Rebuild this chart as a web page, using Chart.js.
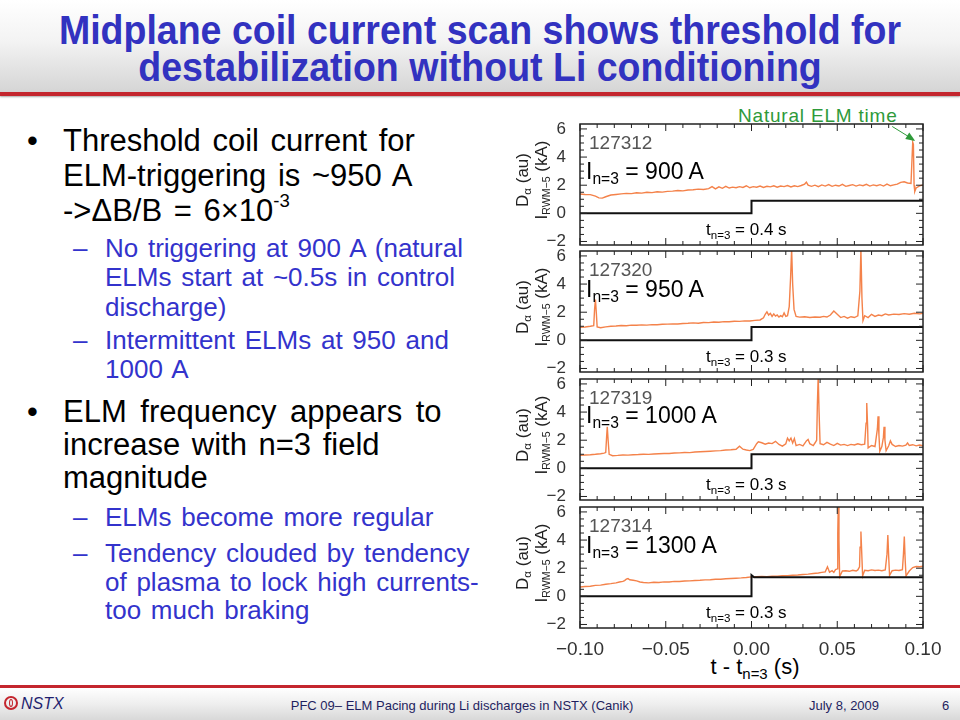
<!DOCTYPE html>
<html>
<head>
<meta charset="utf-8">
<script src="https://cdn.jsdelivr.net/npm/chart.js@4.4.1/dist/chart.umd.min.js"></script>
<style>
body { margin: 0; width: 960px; height: 720px; position: relative; overflow: hidden; background: #fff; font-family: "Liberation Sans", Arial, sans-serif; }
.abs { position: absolute; white-space: nowrap; }
#head { left: 0; top: 0; width: 960px; height: 92px; background: linear-gradient(#ffffff 0%, #f3f3f3 45%, #d5d5d5 100%); }
#headline { left: 0; top: 92px; width: 960px; height: 4px; background: #c4262e; box-shadow: 0 1px 2px #aaa; }
.ttl { left: 0; width: 960px; text-align: center; font-weight: bold; font-size: 41px; line-height: 44px; color: #3232c0; transform: scaleX(.915); }
.dot { left: 27px; font-size: 31px; line-height: 36px; color: #000; }
.b1 { left: 63px; font-size: 31px; line-height: 36px; color: #000; word-spacing: 3px; }
.dash { left: 73px; font-size: 26px; line-height: 30px; color: #3333cc; }
.b2 { left: 105px; font-size: 26px; line-height: 30px; color: #3333cc; word-spacing: 2.5px; }
sup { font-size: .6em; line-height: 0; vertical-align: .75em; }
sub { font-size: .68em; line-height: 0; vertical-align: -.32em; }
.shot { font-size: 19px; line-height: 19px; color: #555; }
.ilab { font-size: 23px; line-height: 23px; color: #000; }
.tlab { font-size: 17px; line-height: 17px; color: #000; }
.ytl { font-size: 17px; line-height: 17px; color: #222; transform: translate(-50%, -50%) rotate(-90deg); }
#foot { left: 0; top: 688px; width: 960px; height: 32px; background: linear-gradient(#ffffff 0%, #eeeeee 50%, #d8d8d8 100%); }
#footline { left: 0; top: 685px; width: 960px; height: 3px; background: #c4262e; }
.ft { font-size: 13px; line-height: 13px; color: #1f1f5f; }
</style>
</head>
<body>
<div id="head" class="abs"></div>
<div id="headline" class="abs"></div>
<div class="abs ttl" style="top:8px">Midplane coil current scan shows threshold for</div>
<div class="abs ttl" style="top:45px">destabilization without Li conditioning</div>

<div class="abs dot" style="top:123px">•</div>
<div class="abs b1" style="top:123px">Threshold coil current for</div>
<div class="abs b1" style="top:158px">ELM-triggering is ~950 A</div>
<div class="abs b1" style="top:193px">-&gt;ΔB/B = 6×10<sup>-3</sup></div>
<div class="abs dash" style="top:233px">–</div>
<div class="abs b2" style="top:233px">No triggering at 900 A (natural</div>
<div class="abs b2" style="top:262px">ELMs start at ~0.5s in control</div>
<div class="abs b2" style="top:292px">discharge)</div>
<div class="abs dash" style="top:325px">–</div>
<div class="abs b2" style="top:325px">Intermittent ELMs at 950 and</div>
<div class="abs b2" style="top:354px">1000 A</div>
<div class="abs dot" style="top:394px">•</div>
<div class="abs b1" style="top:394px;word-spacing:5px">ELM frequency appears to</div>
<div class="abs b1" style="top:427px">increase with n=3 field</div>
<div class="abs b1" style="top:460px">magnitude</div>
<div class="abs dash" style="top:502px">–</div>
<div class="abs b2" style="top:502px">ELMs become more regular</div>
<div class="abs dash" style="top:538px">–</div>
<div class="abs b2" style="top:538px">Tendency clouded by tendency</div>
<div class="abs b2" style="top:567px">of plasma to lock high currents-</div>
<div class="abs b2" style="top:595px">too much braking</div>

<div class="abs" style="left:738px;top:106px;font-size:19px;line-height:19px;letter-spacing:.8px;color:#2e9a3a">Natural ELM time</div>
<div class="abs" style="left:755px;top:656px;font-size:22px;line-height:22px;color:#000;transform:translateX(-50%)">t - t<sub>n=3</sub> (s)</div>

<div id="foot" class="abs"></div>
<div id="footline" class="abs"></div>
<div class="abs" style="left:4px;top:696px;width:14px;height:14px;border:2px solid #c4262e;border-radius:50%;box-sizing:border-box"></div>
<div class="abs" style="left:9px;top:699px;width:4px;height:8px;border:1.5px solid #c4262e;border-radius:50%;box-sizing:border-box"></div>
<div class="abs" style="left:21px;top:696px;font-size:16px;line-height:16px;font-style:italic;color:#1f1f6f">NSTX</div>
<div class="abs ft" style="left:462px;top:699px;transform:translateX(-50%)">PFC 09– ELM Pacing during Li discharges in NSTX (Canik)</div>
<div class="abs ft" style="left:844px;top:699px;transform:translateX(-50%)">July 8, 2009</div>
<div class="abs ft" style="left:942px;top:699px">6</div>

<script>
// shot labels and n=3 coil settings
const shots = ['127312', '127320', '127319', '127314'];
const currents = ['900 A', '950 A', '1000 A', '1300 A'];
const tOn = ['0.4 s', '0.3 s', '0.3 s', '0.3 s'];
const xTicks = [-0.10, -0.05, 0.00, 0.05, 0.10];
const yTicks = [-2, 0, 2, 4, 6];

// Dalpha traces (au) vs t - t_n=3 (s)
const t312 = [-0.100, -0.097, -0.094, -0.091, -0.089, -0.087, -0.085, -0.082, -0.079, -0.076, -0.073, -0.070, -0.067, -0.064, -0.061, -0.058, -0.055, -0.052, -0.049, -0.046, -0.043, -0.040, -0.037, -0.034, -0.031, -0.028, -0.025, -0.023, -0.021, -0.019, -0.017, -0.015, -0.013, -0.011, -0.009, -0.007, -0.005, -0.003, -0.001, 0.001, 0.003, 0.005, 0.007, 0.009, 0.011, 0.013, 0.015, 0.017, 0.019, 0.021, 0.023, 0.025, 0.027, 0.029, 0.031, 0.032, 0.033, 0.035, 0.037, 0.039, 0.041, 0.043, 0.045, 0.047, 0.049, 0.051, 0.053, 0.055, 0.057, 0.059, 0.061, 0.063, 0.065, 0.067, 0.069, 0.071, 0.073, 0.075, 0.077, 0.079, 0.081, 0.083, 0.085, 0.087, 0.089, 0.091, 0.093, 0.0940, 0.0944, 0.0948, 0.0952, 0.096, 0.098, 0.100];
const d312 = [1.38, 1.34, 1.33, 1.22, 1.10, 1.08, 1.18, 1.30, 1.34, 1.38, 1.42, 1.40, 1.46, 1.44, 1.50, 1.47, 1.53, 1.51, 1.56, 1.58, 1.62, 1.60, 1.66, 1.68, 1.72, 1.70, 1.76, 1.90, 1.74, 1.88, 1.78, 1.92, 1.80, 1.86, 1.82, 1.90, 1.84, 1.96, 1.82, 1.90, 1.86, 1.94, 1.84, 1.92, 1.88, 1.96, 1.86, 1.94, 1.90, 1.98, 1.88, 1.96, 1.90, 1.98, 2.08, 2.22, 2.00, 1.92, 2.00, 1.90, 2.02, 1.94, 2.04, 1.92, 2.00, 1.94, 2.06, 1.92, 1.98, 2.04, 1.94, 2.02, 1.96, 2.06, 1.94, 2.02, 1.96, 2.04, 1.94, 2.08, 1.96, 2.02, 2.08, 2.20, 2.24, 2.16, 2.12, 5.05, 4.90, 2.00, 1.55, 1.80, 1.95, 2.02];

const t320 = [-0.100, -0.097, -0.094, -0.092, -0.0915, -0.0910, -0.0905, -0.090, -0.088, -0.085, -0.082, -0.079, -0.076, -0.073, -0.070, -0.067, -0.064, -0.061, -0.058, -0.055, -0.052, -0.049, -0.046, -0.043, -0.040, -0.037, -0.034, -0.031, -0.028, -0.025, -0.022, -0.019, -0.016, -0.013, -0.010, -0.007, -0.004, -0.001, 0.002, 0.005, 0.007, 0.008, 0.009, 0.010, 0.011, 0.012, 0.013, 0.014, 0.015, 0.016, 0.017, 0.018, 0.019, 0.020, 0.021, 0.022, 0.0228, 0.0234, 0.0240, 0.0248, 0.026, 0.028, 0.031, 0.034, 0.037, 0.040, 0.042, 0.044, 0.046, 0.048, 0.050, 0.052, 0.054, 0.056, 0.058, 0.060, 0.062, 0.0632, 0.0638, 0.0644, 0.065, 0.066, 0.068, 0.070, 0.072, 0.074, 0.076, 0.078, 0.080, 0.083, 0.086, 0.089, 0.092, 0.095, 0.098, 0.100];
const d320 = [0.92, 0.95, 1.00, 1.04, 2.20, 2.90, 2.00, 0.95, 0.90, 0.96, 1.00, 1.02, 1.05, 1.04, 1.08, 1.07, 1.10, 1.08, 1.12, 1.11, 1.14, 1.15, 1.17, 1.16, 1.20, 1.21, 1.24, 1.22, 1.27, 1.26, 1.30, 1.29, 1.33, 1.32, 1.36, 1.35, 1.38, 1.37, 1.42, 1.45, 1.60, 1.85, 2.02, 1.80, 1.92, 1.70, 1.88, 1.72, 1.80, 1.65, 1.75, 1.68, 1.95, 1.70, 1.75, 2.40, 4.50, 6.50, 4.00, 2.20, 1.70, 1.65, 1.68, 1.62, 1.66, 1.64, 1.70, 1.66, 1.80, 2.08, 1.85, 1.62, 1.70, 1.58, 1.68, 1.62, 1.74, 3.50, 6.50, 3.00, 1.40, 1.75, 1.62, 1.85, 1.70, 1.80, 1.75, 1.88, 1.80, 1.86, 1.84, 1.90, 1.86, 1.92, 1.88, 1.92];

const t319 = [-0.100, -0.097, -0.094, -0.091, -0.088, -0.086, -0.085, -0.0845, -0.0841, -0.0836, -0.083, -0.081, -0.078, -0.075, -0.072, -0.069, -0.066, -0.063, -0.060, -0.057, -0.054, -0.051, -0.048, -0.045, -0.042, -0.039, -0.036, -0.033, -0.030, -0.027, -0.024, -0.021, -0.018, -0.015, -0.012, -0.009, -0.007, -0.005, -0.003, -0.001, 0.001, 0.003, 0.004, 0.006, 0.008, 0.010, 0.012, 0.014, 0.016, 0.018, 0.020, 0.021, 0.022, 0.023, 0.024, 0.025, 0.026, 0.028, 0.030, 0.032, 0.033, 0.034, 0.036, 0.037, 0.038, 0.0384, 0.0389, 0.0394, 0.040, 0.042, 0.044, 0.046, 0.048, 0.050, 0.052, 0.054, 0.056, 0.058, 0.060, 0.062, 0.064, 0.066, 0.0668, 0.0672, 0.0677, 0.068, 0.070, 0.072, 0.0734, 0.0738, 0.0743, 0.0748, 0.076, 0.0769, 0.0773, 0.0778, 0.0785, 0.080, 0.081, 0.082, 0.084, 0.086, 0.088, 0.090, 0.091, 0.092, 0.094, 0.096, 0.098, 0.100];
const d319 = [0.92, 0.95, 0.97, 1.00, 1.04, 1.08, 1.12, 2.20, 2.95, 2.00, 1.00, 0.90, 0.92, 0.95, 0.94, 0.97, 0.98, 1.00, 0.99, 1.02, 1.04, 1.06, 1.05, 1.09, 1.10, 1.13, 1.12, 1.16, 1.18, 1.20, 1.22, 1.24, 1.26, 1.30, 1.32, 1.36, 1.58, 1.36, 1.30, 1.26, 1.35, 1.75, 1.88, 1.82, 1.72, 1.80, 1.76, 1.92, 1.70, 1.58, 1.75, 2.15, 1.95, 2.15, 1.80, 2.12, 1.62, 1.70, 1.60, 1.95, 2.05, 1.75, 1.62, 1.80, 2.00, 4.50, 6.60, 4.00, 1.75, 1.68, 1.85, 1.72, 1.62, 1.78, 1.65, 1.70, 1.62, 1.70, 1.66, 1.75, 1.68, 1.72, 3.20, 4.65, 3.00, 1.45, 1.62, 1.55, 2.80, 3.70, 2.40, 1.20, 1.55, 2.20, 2.95, 2.00, 1.25, 1.60, 1.95, 1.70, 1.55, 1.62, 1.58, 1.65, 1.80, 1.62, 1.68, 1.60, 1.66, 1.60];

const t314 = [-0.100, -0.097, -0.094, -0.091, -0.088, -0.085, -0.082, -0.079, -0.077, -0.075, -0.074, -0.073, -0.072, -0.071, -0.069, -0.067, -0.065, -0.063, -0.060, -0.057, -0.054, -0.051, -0.048, -0.045, -0.042, -0.039, -0.036, -0.033, -0.030, -0.027, -0.024, -0.021, -0.018, -0.015, -0.012, -0.009, -0.006, -0.003, 0.000, 0.003, 0.006, 0.009, 0.012, 0.015, 0.018, 0.021, 0.024, 0.027, 0.030, 0.033, 0.036, 0.039, 0.041, 0.043, 0.0443, 0.0455, 0.047, 0.048, 0.049, 0.0500, 0.0503, 0.0506, 0.0510, 0.0514, 0.053, 0.055, 0.057, 0.059, 0.061, 0.062, 0.063, 0.0633, 0.0638, 0.0643, 0.0648, 0.066, 0.068, 0.070, 0.072, 0.074, 0.076, 0.078, 0.0790, 0.0795, 0.0800, 0.0805, 0.082, 0.084, 0.086, 0.088, 0.0886, 0.0891, 0.0896, 0.0901, 0.092, 0.094, 0.096, 0.098, 0.100];
const d314 = [0.66, 0.70, 0.72, 0.78, 0.80, 0.86, 0.90, 0.96, 1.02, 1.06, 1.12, 1.22, 1.26, 1.18, 1.14, 1.10, 1.02, 0.98, 0.96, 1.00, 0.98, 1.03, 1.02, 1.06, 1.05, 1.09, 1.10, 1.13, 1.14, 1.17, 1.18, 1.21, 1.22, 1.25, 1.27, 1.29, 1.31, 1.34, 1.38, 1.40, 1.42, 1.40, 1.43, 1.44, 1.46, 1.47, 1.50, 1.52, 1.55, 1.58, 1.62, 1.66, 1.70, 1.74, 2.10, 1.72, 1.82, 1.70, 1.90, 1.95, 4.50, 6.60, 4.00, 1.40, 1.80, 1.82, 1.78, 1.85, 1.80, 1.88, 2.10, 3.50, 4.60, 3.00, 1.45, 1.85, 1.82, 1.88, 1.84, 1.86, 1.82, 1.88, 3.00, 4.35, 2.80, 1.48, 1.82, 1.86, 1.84, 1.90, 3.00, 4.25, 2.60, 1.45, 1.80, 2.05, 2.12, 2.10, 2.14];

// I_RWM-5 (kA): n=3 coil current step at t_n=3
const stepT = [-0.100, 0.000, 0.000, 0.100];
const stepI312 = [0, 0, 0.90, 0.90];
const stepI320 = [0, 0, 0.95, 0.95];
const stepI319 = [0, 0, 1.00, 1.00];
const stepT314 = [-0.100, 0.000, 0.000, 0.0015, 0.100];
const stepI314 = [0, 0, 1.50, 1.35, 1.35];

const panelTops = [124, 251, 379, 507];
const panelH = 121;
const zip = (xs, ys) => xs.map((x, i) => ({ x, y: ys[i] }));
const minus = v => (v < 0 ? '\u2212' : '');

const framePlugin = {
  id: 'frame',
  afterDraw(chart) {
    const { ctx, chartArea: a, scales: { x, y } } = chart;
    ctx.save();
    ctx.strokeStyle = '#222';
    ctx.lineWidth = 1.5;
    ctx.strokeRect(a.left, a.top, a.right - a.left, a.bottom - a.top);
    ctx.lineWidth = 1;
    ctx.beginPath();
    for (let k = -10; k <= 10; k++) {
      const px = x.getPixelForValue(k / 100);
      const len = k % 5 === 0 ? 7 : 4;
      ctx.moveTo(px, a.bottom); ctx.lineTo(px, a.bottom - len);
      ctx.moveTo(px, a.top); ctx.lineTo(px, a.top + len);
    }
    for (let k = -4; k <= 12; k++) {
      const py = y.getPixelForValue(k / 2);
      const len = k % 4 === 0 ? 7 : 4;
      ctx.moveTo(a.left, py); ctx.lineTo(a.left + len, py);
      ctx.moveTo(a.right, py); ctx.lineTo(a.right - len, py);
    }
    ctx.stroke();
    ctx.restore();
  }
};

const arrowPlugin = {
  id: 'elmArrow',
  afterDraw(chart) {
    const { ctx, scales: { x, y } } = chart;
    const tx = x.getPixelForValue(0.0943), ty = y.getPixelForValue(5.25);
    const sx = tx - 21, sy = ty - 13;
    const ang = Math.atan2(ty - sy, tx - sx);
    ctx.save();
    ctx.strokeStyle = '#2e9a3a';
    ctx.fillStyle = '#2e9a3a';
    ctx.lineWidth = 1;
    ctx.beginPath(); ctx.moveTo(sx, sy); ctx.lineTo(tx, ty); ctx.stroke();
    ctx.beginPath();
    ctx.moveTo(tx + 2, ty + 1.5);
    ctx.lineTo(tx - 8 * Math.cos(ang - 0.5), ty - 8 * Math.sin(ang - 0.5));
    ctx.lineTo(tx - 8 * Math.cos(ang + 0.5), ty - 8 * Math.sin(ang + 0.5));
    ctx.closePath(); ctx.fill();
    ctx.restore();
  }
};

function makePanel(i, t, d, st, si) {
  const last = i === 3;
  const padTop = 24;
  const padBottom = last ? 0 : 24;
  const xH = last ? 50 : 0;
  const top = panelTops[i];
  const wrap = document.createElement('div');
  wrap.className = 'abs';
  wrap.style.cssText += `left:500px;top:${top - padTop}px;width:450px;height:${panelH + padTop + padBottom + xH}px`;
  const canvas = document.createElement('canvas');
  wrap.appendChild(canvas);
  document.body.appendChild(wrap);

  const plugins = [framePlugin];
  if (i === 0) plugins.push(arrowPlugin);

  new Chart(canvas, {
    type: 'line',
    data: {
      datasets: [
        { data: zip(st, si), borderColor: '#111', borderWidth: 2, pointRadius: 0, tension: 0 },
        { data: zip(t, d), borderColor: '#f4824a', borderWidth: 1.4, pointRadius: 0, tension: 0 }
      ]
    },
    options: {
      responsive: true,
      maintainAspectRatio: false,
      animation: false,
      events: [],
      layout: { padding: { left: 0, right: 27, top: padTop, bottom: padBottom } },
      plugins: { legend: { display: false }, tooltip: { enabled: false } },
      scales: {
        x: {
          type: 'linear', min: -0.1, max: 0.1,
          afterBuildTicks: s => { s.ticks = xTicks.map(v => ({ value: v })); },
          afterFit: s => { s.height = xH; },
          grid: { display: false }, border: { display: false },
          ticks: {
            display: last, autoSkip: false, maxRotation: 0, padding: 2, color: '#333',
            font: { size: 19, family: '"Liberation Sans", Arial, sans-serif' },
            callback: v => minus(v) + Math.abs(v).toFixed(2)
          }
        },
        y: {
          type: 'linear', min: -2.25, max: 6.35,
          afterBuildTicks: s => { s.ticks = yTicks.map(v => ({ value: v })); },
          afterFit: s => { s.width = 80; },
          grid: { display: false }, border: { display: false },
          ticks: {
            padding: 6, color: '#333',
            font: { size: 17, family: '"Liberation Sans", Arial, sans-serif' },
            callback: v => minus(v) + Math.abs(v)
          }
        }
      }
    },
    plugins
  });

  // panel texts
  const iOff = [47, 38, 35.5, 37.5][i];
  const add = (cls, css, html) => {
    const el = document.createElement('div');
    el.className = 'abs ' + cls;
    el.style.cssText += css;
    el.innerHTML = html;
    document.body.appendChild(el);
  };
  add('shot', `left:589px;top:${top + 9}px`, shots[i]);
  add('ilab', `left:586px;top:${top + iOff - 11}px`, `I<sub>n=3</sub> = ${currents[i]}`);
  add('tlab', `left:706px;top:${top + 97}px`, `t<sub>n=3</sub> = ${tOn[i]}`);
  add('ytl', `left:522px;top:${top + 56}px`, 'D<sub>α</sub> (au)');
  add('ytl', `left:541px;top:${top + 56}px`, 'I<sub style="font-size:.62em">RWM\u22125</sub> (kA)');
}

makePanel(0, t312, d312, stepT, stepI312);
makePanel(1, t320, d320, stepT, stepI320);
makePanel(2, t319, d319, stepT, stepI319);
makePanel(3, t314, d314, stepT314, stepI314);
</script>
</body>
</html>
